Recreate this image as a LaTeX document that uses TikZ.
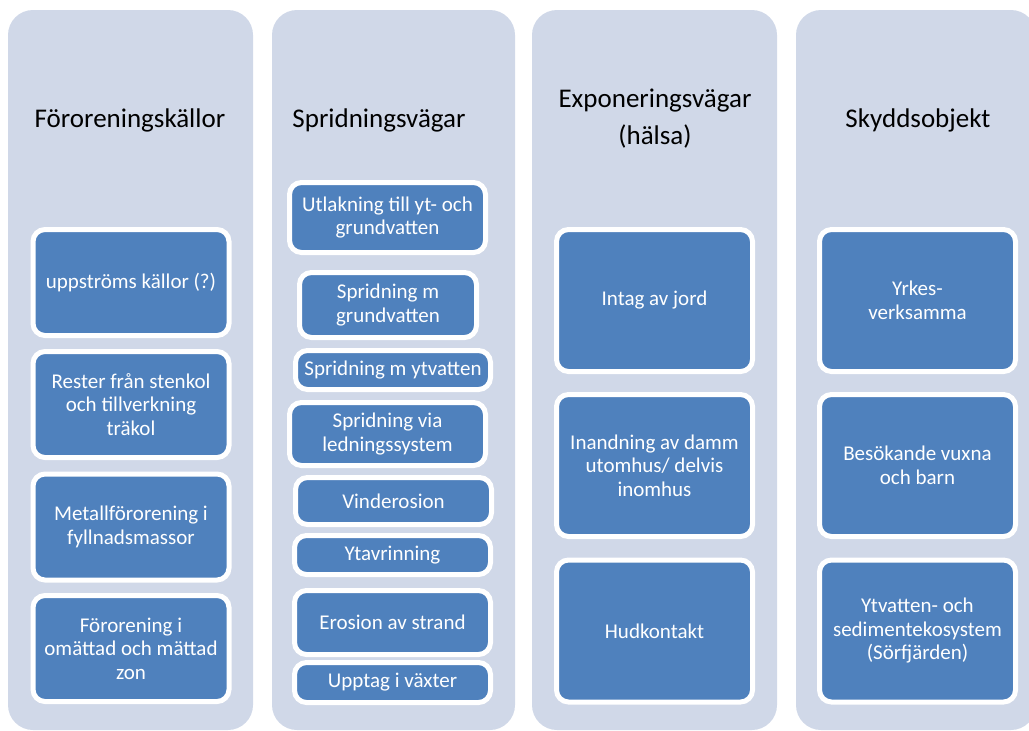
\documentclass[tikz,border=0pt]{standalone}
\usepackage{fontspec}
\setmainfont{Carlito}
\definecolor{colbg}{HTML}{D0D8E8}
\definecolor{cellblue}{HTML}{4F81BD}
\tikzset{
  column/.style={fill=colbg, rounded corners=25pt, minimum width=245pt,
                 minimum height=720pt, inner sep=0pt},
  colhead/.style={align=center, text=black, font=\fontsize{27}{37}\selectfont},
  cell/.style={fill=cellblue, draw=white, line width=5pt, rounded corners=12pt,
               align=center, text=white, inner sep=2pt,
               font=\fontsize{21}{23.5}\selectfont},
}

\begin{document}
\begin{tikzpicture}[x=1pt, y=-1pt]
  \useasboundingbox (0, 0) rectangle (1029, 731);

  \node[column] (col1) at (130.5, 370) {};
  \node[column, minimum width=243pt] (col2) at (393.5, 370) {};
  \node[column] (col3) at (654.5, 370) {};
  \node[column, minimum width=240pt] (col4) at (916, 370) {};

  \node[colhead] (kallor) at (130, 120) {Föroreningskällor};
  \node[colhead] (vagar) at (379, 120) {Spridningsvägar};
  \node[colhead] (expo) at (655, 119) {Exponeringsvägar\\(hälsa)};
  \node[colhead] (skydd) at (918, 120) {Skyddsobjekt};

  \node[cell, minimum width=196pt, minimum height=106pt] (uppstroms) at (131, 282.5)
       {uppströms källor (?)};
  \node[cell, minimum width=196pt, minimum height=106pt] (stenkol) at (131, 404.5)
       {Rester från stenkol\\och tillverkning\\träkol};
  \node[cell, minimum width=196pt, minimum height=106pt] (metall) at (131, 527)
       {Metallförorening i\\fyllnadsmassor};
  \node[cell, minimum width=196pt, minimum height=106pt] (zon) at (131, 648.5)
       {Förorening i\\omättad och mättad\\zon};

  \node[cell, minimum width=196pt, minimum height=70pt] (utlakning) at (387.5, 217.5)
       {Utlakning till yt- och\\grundvatten};
  \node[cell, minimum width=177pt, minimum height=65pt] (grundvatten) at (388, 305)
       {Spridning m\\grundvatten};
  \node[cell, minimum width=195pt, minimum height=39pt] (ytvatten) at (393, 370)
       {Spridning m ytvatten};
  \node[cell, minimum width=196pt, minimum height=63pt] (ledning) at (387.5, 434)
       {Spridning via\\ledningssystem};
  \node[cell, minimum width=196pt, minimum height=47pt] (vind) at (393.5, 501)
       {Vinderosion};
  \node[cell, minimum width=196pt, minimum height=39pt] (ytavr) at (392.5, 555)
       {Ytavrinning};
  \node[cell, minimum width=196pt, minimum height=64pt] (strand) at (392.5, 622.5)
       {Erosion av strand};
  \node[cell, minimum width=196pt, minimum height=40pt] (vaxter) at (392.5, 682.5)
       {Upptag i växter};

  \node[cell, minimum width=196pt, minimum height=142pt] (jord) at (654.5, 300.5)
       {Intag av jord};
  \node[cell, minimum width=196pt, minimum height=142pt] (damm) at (654.5, 465.5)
       {Inandning av damm\\utomhus/ delvis\\inomhus};
  \node[cell, minimum width=196pt, minimum height=142pt] (hud) at (654.5, 631)
       {Hudkontakt};

  \node[cell, minimum width=196pt, minimum height=142pt] (yrke) at (917.5, 300.5)
       {Yrkes-\\verksamma};
  \node[cell, minimum width=196pt, minimum height=142pt] (besok) at (917.5, 465.5)
       {Besökande vuxna\\och barn};
  \node[cell, minimum width=196pt, minimum height=142pt] (eko) at (917.5, 631)
       {Ytvatten- och\\sedimentekosystem\\(Sörfjärden)};
\end{tikzpicture}
\end{document}
